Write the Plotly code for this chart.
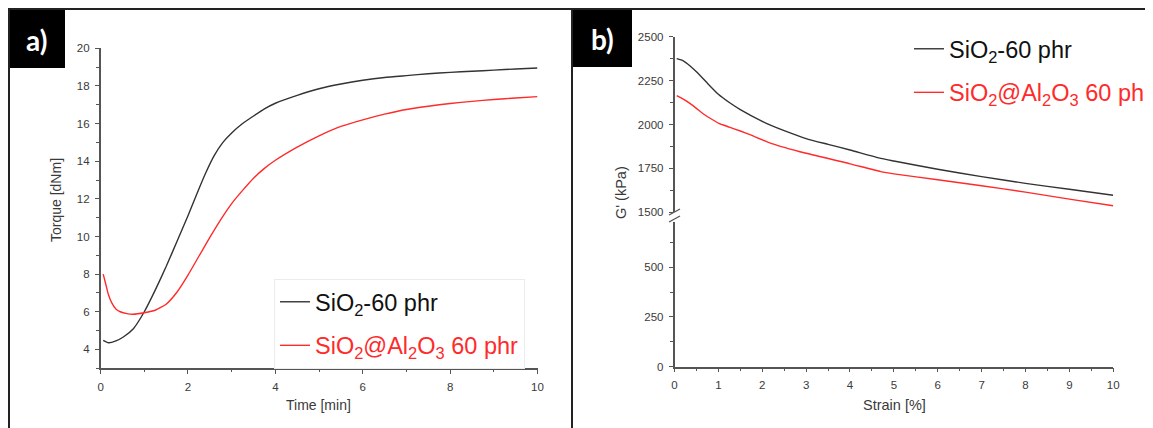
import plotly.graph_objects as go

# The page body has an 8 px margin, so the figure is drawn 8 px in from the window's top-left
# corner; the figure is made 8 px smaller so it ends exactly at the window edge.
OFF = 8
W, H = 1153 - OFF, 428 - OFF

# ---------------- data ----------------
# panel a: torque vs time
time_black = [0.06, 0.18, 0.35, 0.52, 0.75, 1.0, 1.25, 1.5, 1.75, 2.0, 2.2, 2.4, 2.6, 2.8,
              3.0, 3.25, 3.5, 3.75, 4.0, 4.5, 5.0, 5.5, 6.0, 6.5, 7.0, 7.5, 8.0, 8.5, 9.0, 9.5, 10.0]
torque_black = [4.48, 4.35, 4.45, 4.66, 5.1, 6.0, 7.15, 8.4, 9.75, 11.1, 12.25, 13.35, 14.3, 15.0,
                15.5, 16.0, 16.4, 16.78, 17.08, 17.5, 17.85, 18.1, 18.3, 18.45, 18.55, 18.65, 18.72,
                18.78, 18.84, 18.9, 18.95]
time_red = [0.06, 0.12, 0.18, 0.25, 0.35, 0.45, 0.6, 0.75, 1.0, 1.25, 1.5, 1.75, 2.0, 2.25, 2.5,
            2.75, 3.0, 3.25, 3.5, 3.75, 4.0, 4.5, 5.0, 5.5, 6.0, 6.5, 7.0, 7.5, 8.0, 8.5, 9.0, 9.5, 10.0]
torque_red = [8.0, 7.45, 6.9, 6.5, 6.15, 6.0, 5.9, 5.87, 5.95, 6.08, 6.4, 7.05, 7.95, 8.95, 9.95,
              10.9, 11.75, 12.45, 13.1, 13.62, 14.05, 14.75, 15.35, 15.85, 16.2, 16.5, 16.75, 16.92,
              17.07, 17.18, 17.28, 17.36, 17.43]

# panel b: G' vs strain
strain_black = [0.05, 0.2, 0.35, 0.5, 0.75, 1.0, 1.25, 1.5, 2.0, 2.2, 2.5, 3.0, 3.5, 4.0, 4.7, 5.0,
                6.0, 7.0, 8.0, 9.0, 10.0]
g_black = [2375, 2363, 2335, 2300, 2235, 2172, 2125, 2085, 2018, 1995, 1965, 1920, 1887, 1855, 1807,
           1792, 1745, 1703, 1665, 1631, 1597]
strain_red = [0.05, 0.2, 0.35, 0.5, 0.66, 0.85, 1.0, 1.25, 1.5, 1.72, 2.2, 3.0, 4.0, 4.7, 5.0,
              6.0, 7.0, 8.0, 9.0, 10.0]
g_red = [2165, 2145, 2120, 2092, 2060, 2030, 2008, 1985, 1963, 1942, 1893, 1836, 1776, 1732, 1719,
         1685, 1651, 1615, 1575, 1537]

name_black = "SiO<sub>2</sub>-60 phr"
name_red = "<span style='color:#ff2a2a'>SiO<sub>2</sub>@Al<sub>2</sub>O<sub>3</sub> 60 phr</span>"

BLACK = "#333333"
RED = "#ff2a2a"


def px(x):
    """window pixel x -> paper fraction"""
    return (x - OFF) / W


def py(y):
    """window pixel y (from top) -> paper fraction"""
    return 1 - (y - OFF) / H


fig = go.Figure()

LINE = dict(width=1.4, shape="spline", smoothing=0.5)
fig.add_trace(go.Scatter(x=time_black, y=torque_black, mode="lines", name=name_black,
                         line=dict(LINE, color=BLACK),
                         xaxis="x", yaxis="y", legend="legend", legendgroup="a1"))
fig.add_trace(go.Scatter(x=time_red, y=torque_red, mode="lines", name=name_red,
                         line=dict(LINE, color=RED),
                         xaxis="x", yaxis="y", legend="legend", legendgroup="a2"))
fig.add_trace(go.Scatter(x=strain_black, y=g_black, mode="lines", name=name_black,
                         line=dict(LINE, color=BLACK),
                         xaxis="x2", yaxis="y3", legend="legend2", legendgroup="b1"))
fig.add_trace(go.Scatter(x=strain_red, y=g_red, mode="lines", name=name_red,
                         line=dict(LINE, color=RED),
                         xaxis="x2", yaxis="y3", legend="legend2", legendgroup="b2"))
# same series on the lower (broken) segment: all values lie above its range, so nothing shows,
# but it makes plotly draw the lower y axis
fig.add_trace(go.Scatter(x=strain_black, y=g_black, mode="lines", showlegend=False,
                         line=dict(LINE, color=BLACK), xaxis="x2", yaxis="y2", hoverinfo="skip"))

TICKFONT = dict(family="Liberation Sans, Arial", size=11.5, color="#3a3a3a")
AX = dict(showline=True, linecolor="#555", linewidth=1.5, ticks="outside", ticklen=4,
          tickwidth=1.2, tickcolor="#555", tickfont=TICKFONT, showgrid=False, zeroline=False,
          ticklabelstandoff=3, automargin=False)
MINOR = dict(ticks="outside", ticklen=2.5, tickcolor="#555")

fig.update_layout(
    width=W, height=H, margin=dict(l=0, r=0, t=0, b=0, autoexpand=False),
    paper_bgcolor="white", plot_bgcolor="rgba(0,0,0,0)",
    xaxis=dict(AX, domain=[px(100.6), px(537.5)], range=[0, 10], dtick=2, tick0=0,
               minor=dict(MINOR, dtick=1), anchor="y"),
    yaxis=dict(AX, domain=[py(368.2), py(48.3)], range=[3, 20], dtick=2, tick0=0,
               minor=dict(MINOR, dtick=1), anchor="x"),
    xaxis2=dict(AX, domain=[px(674.5), px(1113.2)], range=[0, 10], dtick=1, tick0=0,
                minor=dict(MINOR, dtick=0.5), anchor="y2"),
    yaxis2=dict(AX, domain=[py(366.6), py(221.5)], range=[0, 730], dtick=250, tick0=0,
                minor=dict(MINOR, dtick=125), anchor="x2"),
    yaxis3=dict(AX, domain=[py(212.3), py(36.7)], range=[1500, 2500], dtick=250, tick0=0,
                minor=dict(MINOR, dtick=125), anchor="x2"),
    legend=dict(x=px(274), y=py(279), xanchor="left", yanchor="top", bgcolor="white",
                bordercolor="#ececec", borderwidth=1, tracegroupgap=10,
                font=dict(family="Liberation Sans, Arial", size=23.5, color="#111")),
    legend2=dict(x=px(909), y=py(27), xanchor="left", yanchor="top", bgcolor="rgba(255,255,255,0)",
                 borderwidth=0, tracegroupgap=10,
                 font=dict(family="Liberation Sans, Arial", size=23.5, color="#111")),
)

TITLEFONT = dict(family="Liberation Sans, Arial", size=14, color="#3a3a3a")
ann = [
    dict(text="Torque [dNm]", x=px(56), y=py(200), textangle=-90, font=TITLEFONT),
    dict(text="Time [min]", x=px(318), y=py(405), font=TITLEFONT),
    dict(text="G' (kPa)", x=px(621), y=py(193), textangle=-90, font=dict(TITLEFONT, size=14.5)),
    dict(text="Strain [%]", x=px(894), y=py(405), font=dict(TITLEFONT, size=14.5)),
    dict(text="a)", x=px(36), y=py(40), font=dict(family="Lato", size=28, color="white", weight="bold")),
    dict(text="b)", x=px(602), y=py(39), font=dict(family="Lato", size=28, color="white", weight="bold")),
]
for a in ann:
    a.update(xref="paper", yref="paper", xanchor="center", yanchor="middle", showarrow=False)
fig.update_layout(annotations=ann)

FRAME = "#222"
shapes = [
    dict(type="rect", x0=px(8), x1=px(65), y0=py(68), y1=py(8), fillcolor="black", line=dict(width=0)),
    dict(type="rect", x0=px(572), x1=px(632), y0=py(67), y1=py(8), fillcolor="black", line=dict(width=0)),
    dict(type="line", x0=px(8), x1=1, y0=py(9), y1=py(9), line=dict(color=FRAME, width=2)),
    dict(type="line", x0=px(9), x1=px(9), y0=0, y1=py(8), line=dict(color=FRAME, width=2)),
    dict(type="line", x0=px(572), x1=px(572), y0=0, y1=py(8), line=dict(color=FRAME, width=2)),
    # axis break marks
    dict(type="line", x0=px(669), x1=px(680), y0=py(215), y1=py(209), line=dict(color="#555", width=1.3)),
    dict(type="line", x0=px(669), x1=px(680), y0=py(222), y1=py(216), line=dict(color="#555", width=1.3)),
]
for s in shapes:
    s.update(xref="paper", yref="paper")
fig.update_layout(shapes=shapes)

fig.write_html("out.html")
